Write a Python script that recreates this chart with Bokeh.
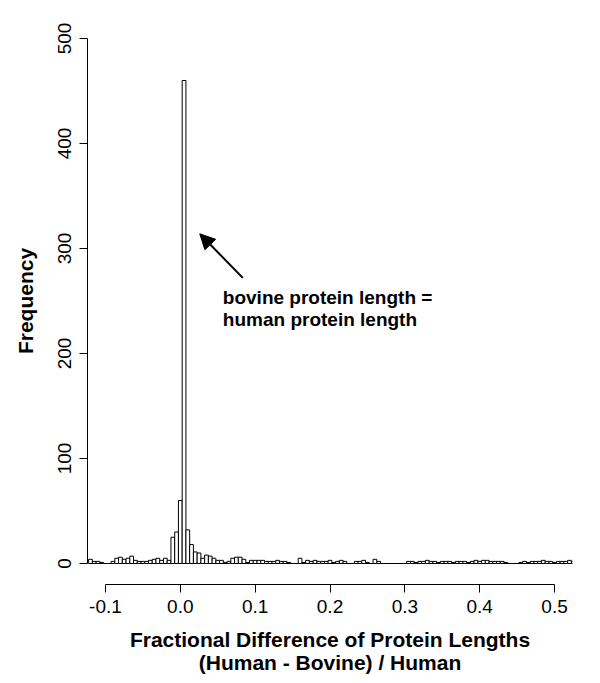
import numpy as np
from bokeh.plotting import figure
from bokeh.models import Range1d, FixedTicker, PrintfTickFormatter, Arrow, NormalHead, Label
from bokeh.embed import file_html
from bokeh.resources import INLINE

# ---- data ----
bin_start = -0.1225
bin_width = 0.005
counts = [
    4, 2, 2, 1, 0, 0, 2, 5, 6, 4,
    5, 7, 3, 2, 2, 2, 3, 4, 5, 3,
    5, 3, 25, 30, 60, 460, 32, 18, 11, 10,
    5, 8, 7, 5, 3, 3, 1, 2, 5, 6,
    6, 4, 1, 3, 3, 3, 3, 2, 2, 2,
    3, 2, 2, 1, 0, 0, 5, 1, 3, 2,
    3, 2, 2, 2, 3, 1, 2, 3, 2, 0,
    0, 2, 2, 3, 1, 0, 4, 2, 0, 0,
    0, 0, 0, 0, 0, 2, 2, 1, 2, 2,
    3, 2, 2, 1, 2, 2, 2, 1, 2, 2,
    2, 1, 2, 3, 2, 3, 3, 2, 2, 2,
    2, 1, 0, 0, 0, 1, 2, 1, 2, 2,
    2, 3, 2, 2, 1, 2, 2, 2, 3, 2,
]
x_ticks = [-0.1, 0.0, 0.1, 0.2, 0.3, 0.4, 0.5]
y_ticks = [0, 100, 200, 300, 400, 500]
x_title = "Fractional Difference of Protein Lengths\n(Human - Bovine) / Human"
y_title = "Frequency"
note_lines = ["bovine protein length =", "human protein length"]

# annotation placement (data units)
arrow_tail = (0.0835, 272)
arrow_tip = (0.026, 314)
note_x = 0.0568
note_y = [253, 232]

FONT = "Liberation Sans"

left = bin_start + bin_width * np.arange(len(counts))
right = left + bin_width

p = figure(frame_width=485, frame_height=567,
           output_backend="svg", toolbar_location=None,
           x_range=Range1d(-0.124, 0.524), y_range=Range1d(-20, 520),
           min_border_left=87, min_border_top=17, min_border_right=20,
           min_border_bottom=92)
p.outline_line_color = None
p.xgrid.visible = False
p.ygrid.visible = False
p.background_fill_color = "white"
p.border_fill_color = "white"

p.quad(left=left, right=right, bottom=0, top=counts,
       fill_color="white", line_color="black", line_width=1)

for ax in (p.xaxis[0], p.yaxis[0]):
    ax.axis_line_color = "black"
    ax.axis_line_width = 1
    ax.major_tick_line_color = "black"
    ax.major_tick_in = 0
    ax.major_tick_out = 8
    ax.minor_tick_line_color = None
    ax.major_label_text_font = FONT
    ax.major_label_text_font_size = "19px"
    ax.major_label_text_color = "black"
    ax.axis_label_text_font = FONT
    ax.axis_label_text_font_style = "bold"
    ax.axis_label_text_font_size = "21px"
    ax.axis_label_text_color = "black"

xa = p.xaxis[0]
xa.bounds = (-0.1, 0.5)
xa.ticker = FixedTicker(ticks=x_ticks, minor_ticks=[])
xa.formatter = PrintfTickFormatter(format="%.1f")
xa.major_label_standoff = 7
xa.axis_label = x_title
xa.axis_label_standoff = 12
xa.axis_label_text_line_height = 1.0

ya = p.yaxis[0]
ya.bounds = (0, 500)
ya.ticker = FixedTicker(ticks=y_ticks, minor_ticks=[])
ya.major_label_orientation = "vertical"
ya.major_label_standoff = 9
ya.axis_label = y_title
ya.axis_label_standoff = 18

p.add_layout(Arrow(end=NormalHead(size=15, fill_color="black", line_color="black"),
                   x_start=arrow_tail[0], y_start=arrow_tail[1],
                   x_end=arrow_tip[0], y_end=arrow_tip[1],
                   line_width=2, line_color="black"))

for txt, yy in zip(note_lines, note_y):
    p.add_layout(Label(x=note_x, y=yy, text=txt, text_font=FONT,
                       text_font_style="bold", text_font_size="19px",
                       text_color="black", text_baseline="alphabetic"))

open("out.html", "w").write(file_html(p, INLINE))
